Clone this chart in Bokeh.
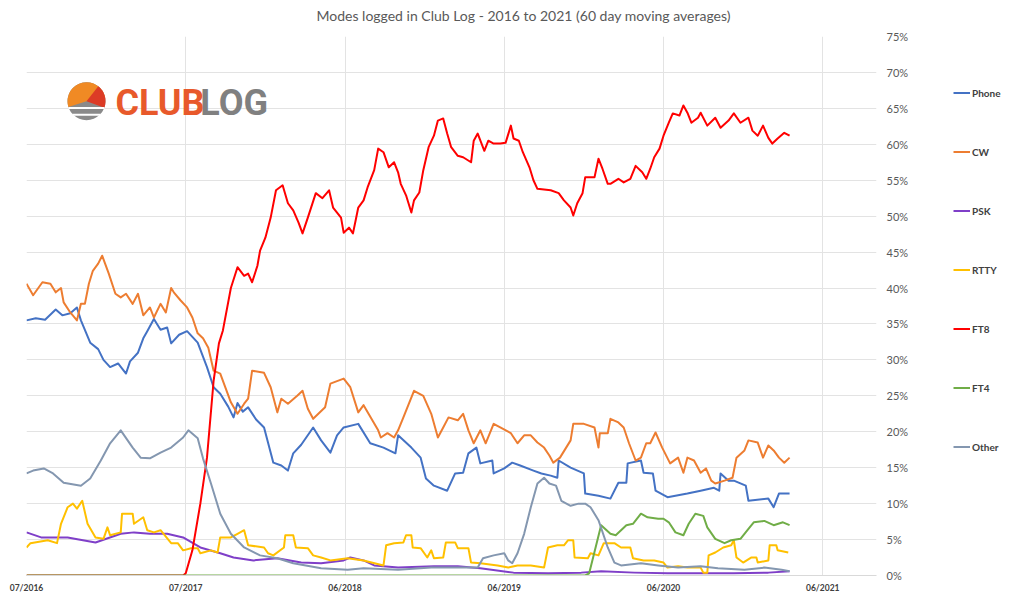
from bokeh.plotting import figure
from bokeh.models import Range1d, Legend, LegendItem, Label, Title
from bokeh.layouts import row
from bokeh.embed import file_html
from bokeh.resources import INLINE

# ---- axes ----
tick_months = [0, 12, 24, 36, 48, 60]
tick_labels = ["07/2016", "07/2017", "06/2018", "06/2019", "06/2020", "06/2021"]
pct_ticks = [0, 5, 10, 15, 20, 25, 30, 35, 40, 45, 50, 55, 60, 65, 70, 75]

# ---- series (x = months since 07/2016, y = % of QSOs) ----
phone_x = [0.0, 0.7, 1.4, 2.2, 2.7, 3.3, 3.8, 4.1, 4.8, 5.4, 5.8, 6.3, 6.9, 7.5, 7.8, 8.4, 8.8, 9.1, 9.6, 10.1,
           10.6, 10.9, 11.5, 12.1, 12.5, 12.9, 13.6, 14.1, 14.6, 15.2, 15.6, 15.9, 16.3, 16.7, 17.3, 17.9, 18.6,
           19.2, 19.7, 20.1, 20.7, 21.6, 22.2, 22.9, 23.4, 23.9, 25.0, 25.9, 26.9, 27.8, 28.0, 29.0, 29.7, 30.1,
           30.7, 31.7, 32.3, 32.9, 33.3, 33.9, 34.2, 35.1, 35.2, 36.0, 36.6, 37.2, 38.2, 38.8, 39.5, 40.0, 40.1,
           41.0, 42.0, 42.1, 43.1, 44.0, 44.6, 45.2, 45.3, 46.3, 46.5, 47.2, 47.4, 48.3, 49.8, 50.8, 51.8, 52.2,
           52.3, 52.9, 53.3, 54.2, 54.4, 55.9, 56.3, 56.7, 57.5]
phone_y = [35.5, 35.8, 35.6, 37.0, 36.2, 36.5, 37.3, 35.5, 32.4, 31.5, 30.0, 29.0, 29.5, 28.1, 29.8, 31.0, 33.0,
           34.0, 35.7, 34.2, 34.5, 32.3, 33.5, 34.0, 33.2, 32.4, 29.0, 26.2, 25.3, 23.5, 22.0, 24.0, 22.8, 23.4,
           21.7, 20.6, 15.7, 15.3, 14.6, 17.0, 18.2, 20.6, 18.8, 17.1, 19.5, 20.6, 21.1, 18.4, 17.8, 17.0, 19.5,
           17.8, 16.4, 13.5, 12.5, 11.8, 14.2, 14.3, 17.0, 17.8, 15.6, 16.0, 14.2, 14.9, 15.7, 15.3, 14.6, 14.2,
           13.9, 13.6, 16.0, 15.0, 14.2, 11.4, 11.1, 10.7, 12.9, 12.9, 15.6, 16.0, 14.3, 14.2, 11.8, 10.9, 11.4,
           11.8, 12.2, 11.8, 14.2, 13.2, 13.2, 12.5, 10.4, 10.7, 9.5, 11.4, 11.4]

cw_x = [0.0, 0.5, 1.2, 1.8, 2.2, 2.6, 2.8, 3.3, 3.8, 4.1, 4.4, 4.7, 5.0, 5.4, 5.7, 6.2, 6.7, 7.1, 7.5, 8.0, 8.4,
        8.8, 9.3, 9.6, 10.1, 10.5, 10.9, 11.1, 11.6, 12.1, 12.5, 12.9, 13.3, 13.7, 14.1, 14.6, 15.4, 15.9, 16.4,
        16.7, 17.0, 17.9, 18.4, 18.9, 19.2, 19.7, 20.4, 20.8, 21.2, 21.6, 22.5, 22.9, 23.9, 24.4, 25.0, 25.4,
        26.5, 26.7, 27.2, 27.7, 28.0, 28.4, 29.2, 29.9, 30.5, 31.0, 31.4, 31.8, 32.5, 32.9, 33.3, 33.7, 34.2,
        34.6, 35.2, 35.7, 36.5, 37.0, 37.5, 38.0, 38.5, 39.0, 39.4, 39.7, 40.2, 41.0, 41.2, 42.0, 42.8, 43.1,
        43.2, 43.8, 44.0, 44.6, 45.0, 45.4, 45.9, 46.3, 46.7, 47.0, 47.4, 47.9, 48.5, 49.1, 49.5, 49.8, 50.3,
        50.8, 51.2, 51.6, 51.9, 52.6, 53.2, 53.5, 54.1, 54.4, 55.1, 55.5, 55.9, 56.3, 56.7, 57.1, 57.5]
cw_y = [40.6, 39.0, 40.8, 40.6, 39.4, 40.0, 38.0, 36.6, 35.5, 37.8, 37.8, 40.6, 42.4, 43.4, 44.5, 42.0, 39.2,
        38.7, 39.2, 37.8, 39.2, 36.2, 37.3, 35.9, 37.8, 36.6, 40.0, 39.4, 38.3, 37.3, 35.9, 33.7, 33.0, 31.7,
        28.5, 28.1, 24.1, 22.5, 23.9, 24.6, 28.5, 28.2, 26.2, 22.7, 24.6, 23.9, 25.0, 25.7, 23.2, 21.8, 23.4,
        26.7, 27.4, 26.2, 22.7, 23.7, 20.2, 19.2, 19.8, 19.2, 20.2, 22.0, 25.7, 25.0, 22.5, 19.2, 20.6, 22.0,
        21.6, 22.5, 20.2, 18.4, 20.2, 18.4, 21.1, 20.6, 19.8, 18.4, 19.5, 19.5, 18.5, 17.8, 16.7, 15.7, 16.4,
        18.8, 21.1, 21.1, 20.6, 17.8, 19.8, 19.8, 21.8, 21.3, 20.6, 18.4, 16.0, 16.4, 18.4, 18.4, 19.9, 17.8,
        15.6, 16.4, 14.3, 16.4, 16.0, 14.3, 14.9, 13.2, 12.8, 13.2, 13.6, 16.4, 17.4, 18.8, 18.5, 16.4, 18.1,
        17.4, 16.4, 15.7, 16.4]

psk_x = [0.0, 1.1, 3.1, 5.2, 7.1, 8.1, 9.3, 10.6, 11.8, 13.1, 14.6, 15.6, 17.1, 18.9, 20.7, 22.2, 23.9, 24.4,
         25.4, 26.2, 28.0, 30.7, 32.5, 34.2, 36.7, 39.3, 41.8, 43.3, 45.8, 48.3, 50.8, 53.3, 55.9, 57.5]
psk_y = [6.0, 5.3, 5.3, 4.6, 5.8, 6.0, 5.8, 5.8, 5.3, 3.9, 3.1, 2.5, 2.1, 2.4, 1.8, 1.7, 2.1, 2.5, 2.1, 1.4,
         1.1, 1.3, 1.3, 1.0, 0.4, 0.3, 0.4, 0.6, 0.4, 0.3, 0.3, 0.3, 0.4, 0.6]

rtty_x = [0.0, 0.3, 1.6, 2.3, 2.6, 3.1, 3.5, 3.8, 4.2, 4.6, 5.2, 5.8, 6.1, 6.3, 7.1, 7.2, 8.0, 8.1, 8.8, 9.1,
          9.6, 10.1, 10.9, 11.4, 11.8, 12.4, 12.9, 13.1, 13.9, 14.4, 14.6, 15.4, 15.9, 16.4, 16.7, 17.9, 18.2,
          18.6, 19.4, 19.5, 20.1, 20.3, 21.2, 21.6, 22.2, 22.9, 24.2, 25.4, 26.9, 27.1, 27.7, 28.4, 28.6, 29.0,
          29.1, 29.7, 30.2, 30.5, 30.7, 31.4, 31.6, 32.3, 32.5, 33.3, 33.5, 34.2, 35.5, 36.3, 37.0, 38.0, 39.0,
          39.3, 40.0, 40.5, 40.8, 41.2, 41.3, 42.3, 42.5, 43.1, 43.5, 44.3, 44.8, 45.5, 45.7, 46.5, 47.3, 48.0,
          48.3, 49.1, 49.8, 50.8, 51.0, 51.3, 51.4, 51.9, 52.5, 53.1, 53.3, 53.5, 54.0, 54.6, 55.0, 55.1, 55.9,
          56.0, 56.5, 56.6, 57.4]
rtty_y = [3.9, 4.5, 4.9, 4.5, 7.2, 9.5, 10.0, 9.3, 10.4, 7.2, 5.3, 5.1, 6.7, 5.6, 6.0, 8.6, 8.6, 7.2, 8.1, 6.3,
          6.0, 6.3, 4.5, 4.5, 3.5, 3.8, 3.8, 3.1, 3.5, 3.2, 5.3, 5.3, 5.8, 6.3, 4.2, 3.9, 3.1, 2.8, 3.9, 5.6,
          5.6, 3.9, 3.8, 2.8, 2.5, 2.1, 2.4, 2.1, 1.4, 4.2, 4.5, 4.6, 5.6, 5.6, 3.9, 3.8, 2.5, 3.5, 2.4, 2.5,
          4.6, 4.6, 3.8, 3.8, 1.8, 1.7, 1.4, 1.1, 1.4, 1.4, 1.1, 3.9, 4.2, 4.2, 4.9, 4.9, 2.5, 2.4, 3.1, 2.8,
          4.5, 4.5, 3.9, 3.9, 2.4, 2.1, 2.1, 1.8, 1.1, 1.3, 1.1, 1.1, 0.4, 0.4, 2.8, 3.2, 3.9, 4.2, 4.9, 2.5,
          1.8, 2.5, 2.5, 1.8, 2.1, 4.2, 4.2, 3.5, 3.2]

ft8_x = [0.0, 11.8, 12.0, 12.5, 13.1, 13.6, 14.1, 14.5, 14.8, 15.4, 15.9, 16.4, 16.7, 17.0, 17.4, 17.6, 18.0,
         18.4, 18.8, 19.3, 19.7, 20.1, 20.5, 20.8, 21.2, 21.8, 22.3, 22.8, 23.1, 23.7, 23.9, 24.3, 24.6, 24.8,
         25.0, 25.4, 25.7, 26.2, 26.5, 26.9, 27.3, 27.7, 28.0, 28.2, 28.6, 29.0, 29.2, 29.6, 29.9, 30.3, 30.7,
         31.0, 31.4, 31.7, 32.0, 32.5, 32.9, 33.5, 33.7, 34.0, 34.5, 34.8, 35.2, 35.7, 36.1, 36.5, 36.7, 37.1,
         37.4, 37.9, 38.2, 38.5, 39.5, 40.1, 40.5, 41.0, 41.2, 41.5, 41.9, 42.1, 42.8, 43.1, 43.4, 43.8, 44.0,
         44.6, 45.0, 45.5, 45.9, 46.4, 46.7, 47.0, 47.3, 47.7, 48.0, 48.4, 48.7, 49.2, 49.5, 49.8, 50.1, 50.6,
         50.8, 51.3, 51.9, 52.3, 52.9, 53.3, 53.8, 54.4, 54.7, 55.1, 55.5, 55.9, 56.2, 56.6, 57.1, 57.5]
ft8_y = [0.0, 0.0, 0.3, 3.5, 10.0, 16.4, 27.1, 32.3, 34.1, 40.0, 42.9, 41.7, 42.0, 40.8, 43.1, 45.2, 47.0, 49.8,
         53.6, 54.3, 51.8, 50.8, 49.1, 47.6, 49.8, 53.2, 52.5, 53.6, 51.2, 49.8, 47.7, 48.4, 47.6, 49.4, 51.2,
         52.2, 54.0, 56.4, 59.4, 58.9, 56.8, 57.5, 56.1, 54.5, 52.9, 50.5, 52.2, 53.3, 56.4, 59.6, 61.2, 63.3,
         63.6, 61.5, 59.6, 58.4, 58.2, 57.5, 60.5, 61.5, 59.1, 60.5, 60.1, 60.1, 60.2, 62.6, 60.8, 60.5, 58.9,
         56.8, 55.0, 53.8, 53.6, 53.2, 52.2, 51.2, 50.1, 51.8, 53.2, 55.4, 55.4, 58.0, 56.6, 54.5, 54.5, 55.2,
         54.7, 55.2, 57.0, 56.1, 55.2, 56.6, 58.2, 59.4, 61.2, 63.0, 64.3, 64.0, 65.4, 64.4, 63.0, 63.7, 64.4,
         62.6, 63.7, 62.3, 63.3, 64.3, 63.0, 63.7, 61.9, 61.2, 62.6, 60.9, 60.1, 60.8, 61.6, 61.2]

ft4_x = [0.0, 42.1, 42.4, 43.3, 44.0, 44.4, 45.2, 45.7, 46.3, 46.8, 47.6, 48.0, 48.4, 48.9, 49.5, 49.9, 50.4,
         51.0, 51.3, 51.9, 52.6, 53.1, 53.8, 54.4, 54.8, 55.6, 56.3, 57.0, 57.5]
ft4_y = [0.0, 0.0, 0.3, 7.0, 5.8, 5.6, 7.0, 7.2, 8.6, 8.1, 7.9, 7.9, 7.4, 6.0, 5.6, 7.2, 8.6, 8.3, 6.7, 5.1, 4.5,
         4.9, 5.1, 6.5, 7.4, 7.6, 7.0, 7.4, 7.0]

other_x = [0.0, 0.5, 1.3, 2.0, 2.8, 4.1, 4.8, 5.6, 6.3, 7.1, 8.0, 8.6, 9.3, 10.1, 10.9, 11.8, 12.2, 12.9, 13.3,
           13.9, 14.6, 15.4, 16.4, 17.6, 18.9, 20.1, 22.2, 24.2, 25.4, 28.0, 30.5, 34.0, 34.4, 35.2, 36.0, 36.3,
           36.6, 37.0, 37.5, 38.0, 38.5, 39.0, 39.4, 39.9, 40.3, 41.0, 41.6, 42.1, 42.5, 43.1, 43.8, 44.3, 44.8,
           46.3, 47.6, 49.1, 50.8, 52.1, 54.1, 55.6, 56.9, 57.5]
other_y = [14.2, 14.6, 14.9, 14.2, 12.9, 12.5, 13.5, 16.0, 18.4, 20.2, 17.8, 16.4, 16.3, 17.1, 17.8, 19.2, 20.2,
           19.1, 16.3, 12.8, 8.6, 5.8, 3.9, 2.8, 2.4, 1.7, 1.0, 0.8, 1.0, 0.8, 1.1, 1.1, 2.4, 2.8, 3.1, 2.1, 1.7,
           3.1, 5.8, 9.5, 12.8, 13.6, 12.8, 12.5, 10.4, 9.7, 10.0, 10.0, 9.5, 7.7, 3.9, 1.8, 1.4, 1.7, 1.4, 1.1,
           1.3, 1.0, 0.8, 1.1, 0.8, 0.6]

series = [
    ("Phone", phone_x, phone_y, "#4472C4"),
    ("CW", cw_x, cw_y, "#ED7D31"),
    ("PSK", psk_x, psk_y, "#7F3FC8"),
    ("RTTY", rtty_x, rtty_y, "#FFC000"),
    ("FT8", ft8_x, ft8_y, "#FF0000"),
    ("FT4", ft4_x, ft4_y, "#70AD47"),
    ("Other", other_x, other_y, "#8497B0"),
]

FONT = "Lato"

# ---------------- main chart ----------------
p = figure(width=936, height=600, output_backend="svg", toolbar_location=None,
           x_range=Range1d(0, 64.05), y_range=Range1d(0, 75), y_axis_location="right",
           min_border_left=26, min_border_right=60, min_border_top=36, min_border_bottom=25)

p.outline_line_color = None
p.background_fill_color = "white"
p.border_fill_color = "white"

# title (a blank spacer title sits between it and the plot area)
p.title.text = "Modes logged in Club Log - 2016 to 2021 (60 day moving averages)"
p.title.text_font = FONT
p.title.text_font_size = "14px"
p.title.text_font_style = "normal"
p.title.text_color = "#595959"
p.title.align = "left"
p.title.offset = 290
p.title.vertical_align = "bottom"
p.title.standoff = 0
p.add_layout(Title(text=" ", text_font_size="10px", standoff=0), "above")

# x axis
p.xaxis.ticker = tick_months
p.xaxis.major_label_overrides = {t: l for t, l in zip(tick_months, tick_labels)}
p.xaxis.axis_line_color = "#D9D9D9"
p.xaxis.major_tick_line_color = None
p.xaxis.major_tick_out = 0
p.xaxis.major_tick_in = 0
p.xaxis.minor_tick_line_color = None
p.xaxis.major_label_text_font = FONT
p.xaxis.major_label_text_font_size = "8.5px"
p.xaxis.major_label_text_font_style = "bold"
p.xaxis.major_label_text_color = "#404040"
p.xaxis.major_label_standoff = 7

# y axis (right)
p.yaxis.ticker = pct_ticks
p.yaxis.major_label_overrides = {t: f"{t}%" for t in pct_ticks}
p.yaxis.axis_line_color = None
p.yaxis.major_tick_line_color = None
p.yaxis.major_tick_out = 0
p.yaxis.major_tick_in = 0
p.yaxis.minor_tick_line_color = None
p.yaxis.major_label_text_font = FONT
p.yaxis.major_label_text_font_size = "11px"
p.yaxis.major_label_text_color = "#595959"
p.yaxis.major_label_standoff = 10

p.xgrid.grid_line_color = "#E3E3E3"
p.ygrid.grid_line_color = "#E3E3E3"

# logo (decoration)
cx, cy = 4.52, 66.0
p.scatter([cx], [cy], size=38, marker="circle", fill_color="#8A8A8A", line_color=None)
p.wedge([cx], [cy], radius=19, radius_units="screen", start_angle=0.15, end_angle=3.45,
        fill_color="#F08A24", line_color=None)
p.wedge([cx], [cy], radius=19, radius_units="screen", start_angle=-0.35, end_angle=0.9,
        fill_color="#DC3B26", line_color=None)
p.scatter([cx, cx], [cy - 0.95, cy - 1.9], size=[36, 28], marker="dash", line_color="white", line_width=2)
p.add_layout(Label(x=6.7, y=65.7, text="CLUB", text_font="Roboto", text_font_size="36px",
                   text_font_style="bold", text_color="#E8592B", text_baseline="middle"))
p.add_layout(Label(x=13.1, y=65.7, text="LOG", text_font="Roboto", text_font_size="36px",
                   text_font_style="bold", text_color="#808080", text_baseline="middle"))

for name, xs, ys, col in series:
    p.line(xs, ys, line_color=col, line_width=2, line_join="round")

# ---------------- legend column ----------------
# the same series are drawn here only as legend keys; this panel's ranges keep them out of view
q = figure(width=84, height=600, output_backend="svg", toolbar_location=None,
           x_range=Range1d(100, 101), y_range=Range1d(100, 101),
           x_axis_location=None, y_axis_location=None, min_border=0)
q.outline_line_color = None
q.grid.visible = False
items = []
for name, xs, ys, col in series:
    r = q.line(xs, ys, line_color=col, line_width=2)
    items.append(LegendItem(label=name, renderers=[r]))
legend = Legend(items=items, location=(17, 122), orientation="vertical",
                glyph_width=17, glyph_height=13, label_height=13, spacing=46,
                label_standoff=2, padding=0, margin=0,
                border_line_color=None, background_fill_alpha=0,
                label_text_font=FONT, label_text_font_size="10px", label_text_font_style="bold",
                label_text_color="#404040")
q.add_layout(legend)

open("out.html", "w").write(file_html(row(p, q), INLINE))
